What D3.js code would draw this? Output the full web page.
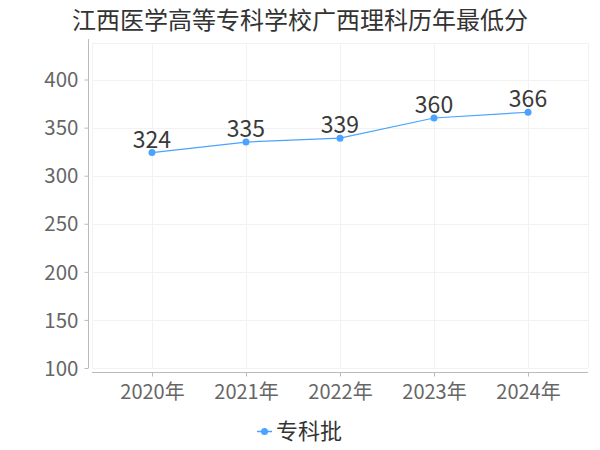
<!DOCTYPE html>
<html><head><meta charset="utf-8">
<script src="https://cdn.jsdelivr.net/npm/d3@7"></script>
<style>body{margin:0;background:#fff}svg{display:block}text{font-family:"Noto Sans CJK SC","Noto Sans",sans-serif}</style>
</head><body>
<script>
const title = "江西医学高等专科学校广西理科历年最低分";
const years = ["2020年","2021年","2022年","2023年","2024年"];
const values = [324, 335, 339, 360, 366];
const seriesName = "专科批";
const yTicks = [100,150,200,250,300,350,400];

(function(){
const W=600,H=450;
const svg=d3.select("body").append("svg").attr("width",W).attr("height",H);
const pL=92,pR=588,pT=43,pB=368;
const x=d3.scalePoint().domain(years).range([pL,pR]).padding(0.638);
const y=d3.scaleLinear().domain([100,438]).range([pB,pT]);
const color="#4aa3ff";

svg.append("text").attr("x",300).attr("y",29).attr("text-anchor","middle")
  .attr("font-size",24).attr("fill","#333").text(title);

// grid
const g=svg.append("g");
g.selectAll("line.h").data(yTicks.concat([438])).enter().append("line")
  .attr("x1",pL).attr("x2",pR).attr("y1",d=>Math.round(y(d))+0.5).attr("y2",d=>Math.round(y(d))+0.5)
  .attr("stroke","#f2f2f2");
const vx=[pL].concat(years.map(d=>x(d))).concat([pR]);
g.selectAll("line.v").data(vx).enter().append("line")
  .attr("x1",d=>Math.round(d)+0.5).attr("x2",d=>Math.round(d)+0.5).attr("y1",pT).attr("y2",pB)
  .attr("stroke","#f2f2f2");

// y axis
const ya=svg.append("g").attr("transform","translate(88.5,0)")
  .call(d3.axisLeft(y).tickValues(yTicks).tickSize(4).tickPadding(6));
ya.select(".domain").attr("stroke","#bbb").attr("d",`M0,${pT-4}V${pB}`);
ya.selectAll(".tick line").attr("stroke","#bbb");
ya.selectAll("text").attr("font-size",20.5).attr("fill","#666").attr("dy","0.35em");

// x axis
const xa=svg.append("g").attr("transform","translate(0,372.5)")
  .call(d3.axisBottom(x).tickSize(4).tickPadding(6));
xa.select(".domain").attr("stroke","#bbb").attr("d",`M${pL},0H${pR}`);
xa.selectAll(".tick line").attr("stroke","#bbb");
xa.selectAll("text").attr("font-size",20).attr("fill","#666").attr("dy","0.8em");

// line
const data=years.map((d,i)=>({k:d,v:values[i]}));
svg.append("path").datum(data).attr("fill","none").attr("stroke",color).attr("stroke-width",1.2)
  .attr("d",d3.line().x(d=>x(d.k)).y(d=>y(d.v)));
svg.selectAll("circle.p").data(data).enter().append("circle")
  .attr("cx",d=>x(d.k)).attr("cy",d=>y(d.v)).attr("r",3.5).attr("fill",color);
svg.selectAll("text.lbl").data(data).enter().append("text")
  .attr("x",d=>x(d.k)).attr("y",d=>y(d.v)-5).attr("text-anchor","middle")
  .attr("font-size",23).attr("fill","#3a3a3a").text(d=>d.v);

// legend
const lg=svg.append("g");
lg.append("line").attr("x1",257).attr("x2",272).attr("y1",431.5).attr("y2",431.5).attr("stroke",color).attr("stroke-width",1.5);
lg.append("circle").attr("cx",264.5).attr("cy",431.5).attr("r",3.5).attr("fill",color);
lg.append("text").attr("x",276).attr("y",431.5).attr("dy","0.36em").attr("font-size",22).attr("fill","#333").text(seriesName);
})();
</script>
</body></html>
